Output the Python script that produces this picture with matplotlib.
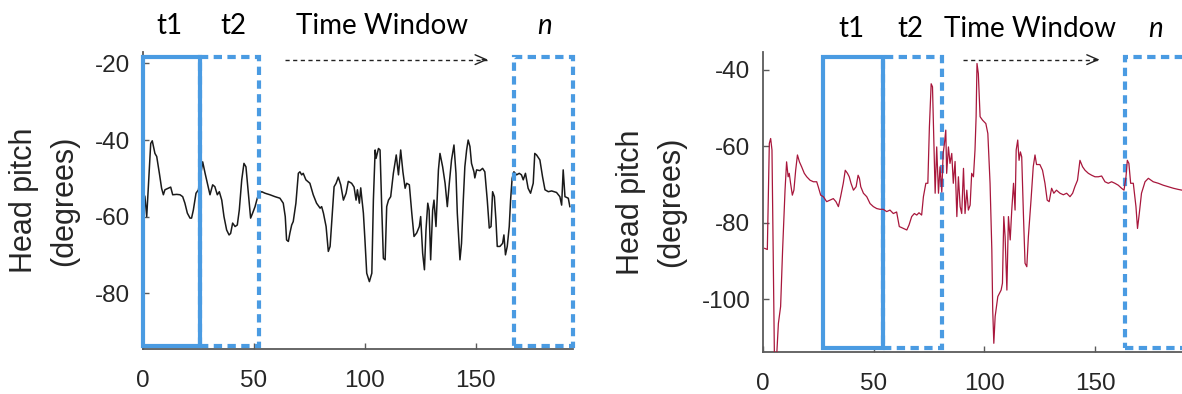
import matplotlib.pyplot as plt
from matplotlib.patches import Rectangle

plt.rcParams['axes.unicode_minus'] = False

#head pitch trace, first recording (time in s, pitch in degrees)
time_a = [0.5, 1.1, 1.9, 3.7, 4.4, 5.6, 6.4, 7.6, 8.6, 9.4, 10.1, 11.6, 12.7, 13.6, 15.4, 16.9,
          18.1, 19.1, 20.2, 21.4, 22.1, 22.9, 24.1, 25.2, 27.1, 28.2, 29.7, 30.4, 31.6, 32.6, 33.7,
          34.6, 35.7, 36.7, 37.9, 39.0, 39.7, 40.6, 41.7, 42.7, 43.6, 44.7, 45.7, 46.6, 47.7, 48.7,
          49.6, 50.7, 51.7, 52.6, 53.7, 55.2, 57.4, 59.7, 61.9, 63.4, 64.3, 64.9, 65.7, 66.4, 67.2,
          67.9, 69.1, 70.2, 70.9, 71.7, 72.4, 73.6, 75.4, 76.9, 78.4, 80.0, 80.7, 81.5, 82.7, 83.7,
          84.5, 85.2, 86.3, 87.2, 88.2, 89.3, 90.5, 91.7, 92.7, 94.2, 95.3, 96.2, 96.8, 97.7, 98.3,
          99.5, 100.2, 101.0, 102.2, 103.3, 104.0, 104.8, 105.2, 106.3, 107.0, 107.8, 108.5, 109.3,
          110.0, 110.8, 111.8, 113.0, 114.3, 115.3, 116.3, 117.3, 118.3, 119.0, 120.2, 121.3, 122.3,
          123.5, 124.7, 125.3, 126.2, 127.0, 127.7, 128.5, 129.1, 129.8, 130.7, 131.3, 132.2, 133.3,
          134.0, 135.2, 136.3, 137.3, 138.2, 139.2, 140.3, 141.2, 141.8, 143.0, 143.7, 144.5, 145.2,
          146.0, 146.7, 147.5, 148.2, 149.3, 149.7, 150.5, 152.0, 153.2, 154.2, 155.3, 156.2, 157.0,
          157.7, 158.5, 159.2, 159.8, 161.0, 162.2, 162.8, 163.5, 164.3, 165.2, 165.8, 166.5, 167.3,
          168.5, 169.7, 170.7, 171.5, 172.5, 173.7, 174.8, 176.0, 176.7, 177.5, 179.0, 180.2, 181.3,
          182.8, 184.3, 186.5, 188.0, 188.8, 189.5, 190.3, 191.8, 192.5]
pitch_a = [-54.0, -54.8, -60.0, -40.9, -40.2, -43.5, -44.3, -48.7, -52.6, -54.3, -53.0, -52.6, -52.3,
           -54.3, -54.2, -54.3, -54.8, -56.5, -59.1, -60.4, -60.4, -58.3, -53.9, -53.0, -45.7, -48.7,
           -52.6, -54.3, -51.7, -52.2, -54.3, -53.5, -55.7, -60.0, -63.5, -64.8, -64.4, -61.7, -62.6,
           -62.2, -58.3, -50.4, -46.1, -47.0, -53.9, -60.4, -59.1, -57.4, -55.2, -53.9, -53.5, -53.9,
           -54.3, -54.8, -55.2, -56.5, -60.0, -66.1, -66.5, -64.3, -62.2, -61.3, -56.5, -48.7, -48.3,
           -49.1, -48.7, -50.4, -51.3, -54.3, -56.5, -57.8, -57.4, -59.1, -62.6, -69.1, -67.8, -61.7,
           -52.2, -51.3, -49.7, -51.7, -55.7, -53.9, -50.8, -51.3, -52.3, -55.7, -53.0, -56.5, -52.5,
           -59.1, -66.1, -74.8, -77.0, -74.8, -55.7, -42.6, -44.8, -42.2, -42.6, -58.3, -70.9, -71.3,
           -57.4, -55.7, -54.8, -48.7, -43.9, -49.1, -42.6, -48.3, -52.6, -51.3, -51.7, -59.1, -65.2,
           -64.3, -62.6, -60.0, -69.6, -73.9, -63.5, -56.5, -58.3, -71.3, -58.3, -55.7, -62.6, -47.8,
           -43.5, -47.0, -51.3, -57.4, -51.3, -45.2, -41.3, -48.7, -59.1, -71.3, -67.0, -55.7, -47.0,
           -42.6, -40.0, -41.7, -46.1, -48.3, -49.9, -47.8, -48.0, -47.4, -48.3, -55.7, -63.0, -62.6,
           -53.5, -54.8, -60.9, -67.8, -67.8, -67.0, -64.8, -70.0, -67.8, -62.6, -55.7, -50.0, -48.3,
           -49.1, -48.7, -49.1, -50.4, -48.7, -52.6, -53.9, -51.3, -43.5, -43.9, -45.2, -49.6, -53.0,
           -53.5, -53.3, -53.7, -54.8, -57.0, -47.8, -54.8, -55.2, -57.4]

#head pitch trace, second recording
time_b = [0.8, 2.0, 2.9, 3.5, 4.1, 4.7, 5.2, 6.2, 7.0, 8.0, 8.9, 10.0, 10.7, 11.4, 11.9, 12.5, 13.3,
          14.0, 14.8, 15.6, 16.5, 17.5, 18.7, 19.8, 21.3, 22.8, 24.3, 25.0, 26.1, 27.3, 28.8, 30.3,
          31.8, 33.0, 34.1, 35.1, 36.3, 37.2, 38.2, 39.0, 39.8, 40.9, 42.1, 43.0, 43.6, 44.2, 45.4,
          46.9, 48.4, 49.9, 51.4, 52.9, 54.4, 55.9, 57.4, 58.9, 60.4, 61.6, 63.5, 65.0, 66.0, 67.2,
          68.4, 69.5, 70.5, 71.7, 72.5, 73.6, 74.5, 75.2, 76.0, 76.6, 77.3, 77.8, 78.5, 79.3, 80.0,
          80.8, 81.4, 82.0, 82.6, 83.0, 83.8, 84.5, 85.3, 86.0, 86.8, 87.6, 88.3, 89.1, 89.8, 90.6,
          91.3, 92.1, 92.8, 93.6, 94.3, 95.1, 95.8, 96.3, 96.7, 97.3, 98.1, 99.2, 100.7, 101.6, 102.6,
          103.4, 103.8, 104.3, 104.9, 106.1, 107.6, 108.2, 108.8, 109.4, 110.2, 110.9, 111.7, 112.4,
          113.2, 113.9, 114.4, 115.1, 115.7, 116.3, 116.9, 117.7, 118.4, 119.2, 119.9, 121.1, 122.1,
          122.9, 123.6, 125.1, 126.3, 127.4, 128.4, 129.3, 130.4, 131.4, 132.6, 134.2, 135.7, 137.2,
          138.7, 139.9, 140.9, 142.1, 143.2, 144.4, 145.5, 147.0, 148.5, 150.0, 151.5, 153.0, 154.5,
          156.0, 157.5, 159.0, 160.5, 162.0, 163.1, 164.0, 164.6, 165.3, 166.1, 167.3, 168.5, 169.2,
          170.0, 171.0, 172.6, 174.1, 176.3, 178.6, 180.8, 183.1, 185.4, 187.6, 189.3, 192.0]
pitch_b = [-86.7, -87.0, -59.3, -58.0, -61.0, -90.0, -115.0, -115.0, -106.3, -101.9, -87.1, -71.5,
           -64.1, -68.0, -67.1, -69.7, -72.8, -71.5, -66.3, -62.3, -64.1, -65.4, -67.1, -68.0, -68.9,
           -69.3, -69.3, -70.6, -72.8, -73.2, -74.5, -74.1, -73.7, -74.5, -75.8, -73.2, -69.7, -66.3,
           -67.1, -68.0, -69.7, -71.5, -70.6, -67.6, -68.4, -70.6, -72.3, -73.2, -75.0, -75.8, -76.3,
           -76.5, -76.5, -77.1, -76.7, -77.6, -77.2, -81.0, -81.5, -81.9, -80.6, -78.4, -77.6, -78.0,
           -77.4, -78.0, -73.2, -69.7, -69.7, -55.0, -43.7, -44.5, -61.0, -72.3, -60.2, -72.3, -65.4,
           -72.0, -62.0, -59.3, -55.8, -67.1, -60.2, -64.5, -61.9, -69.7, -64.0, -78.4, -68.0, -75.8,
           -77.6, -65.8, -77.6, -71.5, -76.7, -75.4, -67.1, -68.0, -61.0, -52.3, -38.4, -41.0, -52.3,
           -53.2, -54.1, -56.7, -69.7, -87.1, -102.8, -111.5, -104.5, -99.3, -97.6, -95.8, -78.4,
           -83.7, -97.6, -78.4, -84.5, -76.7, -69.7, -76.7, -61.0, -58.4, -63.7, -61.5, -62.8, -78.4,
           -90.6, -91.5, -83.7, -74.1, -65.4, -62.3, -64.8, -64.8, -66.3, -69.7, -74.1, -74.5, -71.0,
           -72.3, -71.5, -72.3, -72.7, -72.3, -73.2, -72.3, -70.6, -68.9, -63.7, -65.4, -66.3, -67.1,
           -67.6, -68.0, -68.0, -67.8, -69.3, -69.7, -69.3, -69.7, -70.2, -71.0, -71.5, -68.0, -63.7,
           -64.5, -69.7, -69.7, -75.8, -81.5, -77.6, -72.3, -69.3, -68.4, -69.3, -69.7, -70.2, -70.6,
           -71.0, -71.3, -71.5, -71.8]

#sliding windows (start, end) for t1, t2 and n
windows_a = [(0.0, 26.0), (26.0, 52.7), (167.3, 194.0)]
windows_b = [(27.2, 54.3), (54.3, 81.0), (163.6, 190.6)]
window_labels = ['t1', 't2', 'n']

x_ticks = [0, 50, 100, 150]
y_ticks_a = [-20, -40, -60, -80]
y_ticks_b = [-40, -60, -80, -100]

BLUE = '#4a9be2'
AXIS_GREY = '#5a5a5a'
TICK_FONT = 'Liberation Sans'
TITLE_FONT = 'Lato'

W, H = 1182, 394
fig = plt.figure(figsize=(W / 100, H / 100), dpi=100)


def make_axes(left, bottom, top, width):
    ax = fig.add_axes([left / W, (H - bottom) / H, width / W, (bottom - top) / H])
    ax.spines['top'].set_visible(False)
    ax.spines['right'].set_visible(False)
    for side in ('left', 'bottom'):
        ax.spines[side].set_color(AXIS_GREY)
        ax.spines[side].set_linewidth(1.3)
    ax.tick_params(direction='in', length=4, width=1, color=AXIS_GREY,
                   labelsize=17.5, labelcolor='#262626')
    ax.tick_params(axis='y', pad=9)
    ax.tick_params(axis='x', pad=15)
    ax.set_ylabel('Head pitch\n(degrees)', fontsize=22, family=TICK_FONT,
                  color='#262626', linespacing=1.45, labelpad=11)
    return ax


def draw_windows(ax, windows, y_lo, y_hi, z):
    #first window solid, the rest dashed
    for i, (x0, x1) in enumerate(windows):
        style = '-' if i == 0 else (0, (2.0, 1.3))
        r = Rectangle((x0, y_lo), x1 - x0, y_hi - y_lo, fill=False, edgecolor=BLUE,
                      linewidth=3.0, linestyle=style, clip_on=False, zorder=z)
        ax.add_patch(r)


def draw_arrow(ax, x0, x1, y):
    ax.plot([x0, x1], [y, y], color='#222222', lw=1.0, ls=(0, (3, 2.5)), clip_on=False)
    ax.annotate('', xy=(x1 + 0.6, y), xytext=(x1 - 2, y), annotation_clip=False,
                arrowprops=dict(arrowstyle='->,head_length=0.8,head_width=0.35',
                                color='#222222', lw=1.0, shrinkA=0, shrinkB=0))


def draw_labels(ax, xs, y, tw_x):
    kw = dict(ha='center', va='center', fontsize=20, family=TITLE_FONT, clip_on=False)
    ax.text(xs[0], y, window_labels[0], **kw)
    ax.text(xs[1], y, window_labels[1], **kw)
    ax.text(tw_x, y, 'Time Window', **kw)
    ax.text(xs[2], y, window_labels[2], style='italic', **kw)


#left panel
ax1 = make_axes(142.5, 349, 52, 194 * 2.22)
ax1.plot(time_a, pitch_a, color='#1a1a1a', lw=1.1, zorder=2)
ax1.set_xlim(0, 194)
ax1.set_ylim(-94.6, -17.0)
ax1.set_xticks(x_ticks)
ax1.set_yticks(y_ticks_a)
draw_windows(ax1, windows_a, -93.8, -18.2, 3)
draw_arrow(ax1, 64, 155, -19.0)
draw_labels(ax1, [12.2, 40.9, 180.9], -10.2, 107.8)

#right panel, runs past the figure edge
ax2 = make_axes(762.9, 351.7, 52, 194 * 2.214)
ax2.plot(time_b, pitch_b, color='#a8173c', lw=0.9, zorder=4)
ax2.set_xlim(0, 194)
ax2.set_ylim(-113.7, -35.4)
ax2.set_xticks(x_ticks)
ax2.set_yticks(y_ticks_b)
draw_windows(ax2, windows_b, -112.7, -36.7, 3)
draw_arrow(ax2, 90.5, 151.5, -37.4)
draw_labels(ax2, [40.0, 66.6, 177.2], -29.3, 120.6)

for ax in (ax1, ax2):
    for lbl in ax.get_xticklabels() + ax.get_yticklabels():
        lbl.set_fontfamily(TICK_FONT)

fig.savefig('out.png', dpi=100)
